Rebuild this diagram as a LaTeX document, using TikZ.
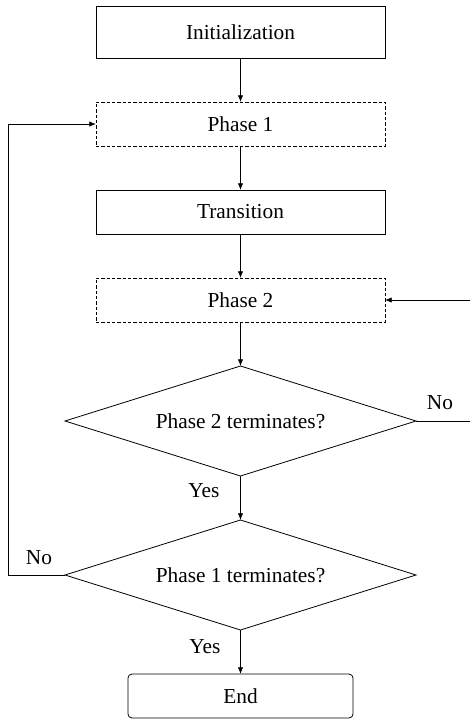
\documentclass[tikz,border=0pt]{standalone}
\usepackage{fontspec}
\setmainfont{Liberation Serif}
\usetikzlibrary{arrows.meta,positioning,shapes.geometric}

\tikzset{
  block/.style={draw,line width=0.6pt,minimum width=216.75pt,minimum height=33pt,inner sep=0pt,outer sep=0pt},
  phase/.style={block,dash pattern=on 2.5pt off 1.5pt},
  test/.style={draw,diamond,aspect=3.2,line width=0.6pt,minimum width=263.25pt,minimum height=82.5pt,inner sep=1pt,outer sep=0pt},
  link/.style={->,line width=0.6pt},
  tag/.style={inner sep=0pt}
}

\begin{document}
\begin{tikzpicture}[x=0.75pt,y=-0.75pt,node distance=33pt,>={Latex[length=5pt,width=4pt]},
  every node/.append style={font=\fontsize{16}{19}\selectfont}]
\useasboundingbox (0,0) rectangle (469,719);
\node[block,minimum height=39pt] (init) at (240.5,32) {Initialization};
\node[phase,below=of init] (ph1) {Phase 1};
\node[block,below=of ph1] (trans) {Transition};
\node[phase,below=of trans] (ph2) {Phase 2};
\node[test,below=of ph2] (term2) {Phase 2 terminates?};
\node[test,below=of term2] (term1) {Phase 1 terminates?};
\node[block,rounded corners=3pt,minimum width=168.75pt,below=of term1] (stop) {End};
\coordinate (rgt) at (470,0);
\coordinate (lft) at (8,0);
\draw[link] (init) -- (ph1);
\draw[link] (ph1) -- (trans);
\draw[link] (trans) -- (ph2);
\draw[link] (ph2) -- (term2);
\draw[link] (term2) -- (term1);
\draw[link] (term1) -- (stop);
\draw[link] (term2.east) -- (term2.east -| rgt) |- (ph2.east);
\draw[link] (term1.west) -- (term1.west -| lft) |- (ph1.west);
\node[tag] (no2) at (440,403) {No};
\node[tag] (yes2) at (204,491) {Yes};
\node[tag] (no1) at (39,558) {No};
\node[tag] (yes1) at (205,647) {Yes};
\end{tikzpicture}
\end{document}
